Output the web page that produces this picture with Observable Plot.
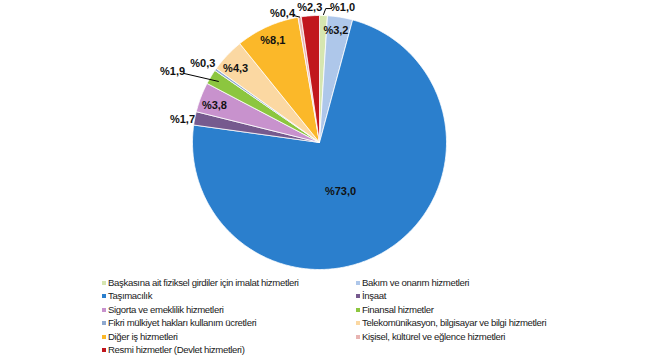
<!DOCTYPE html>
<html>
<head>
<meta charset="utf-8">
<script src="https://cdn.jsdelivr.net/npm/d3@7"></script>
<script src="https://cdn.jsdelivr.net/npm/@observablehq/plot@0.6"></script>
<style>
  html, body { margin: 0; padding: 0; background: #fff; }
  #wrap { width: 650px; height: 360px; position: relative; overflow: hidden; }
  #legend { position: absolute; left: 0; top: 276px; width: 650px; font-family: "Liberation Sans", Arial, sans-serif; font-size: 9.6px; color: #1a1a1a; }
  .li { position: absolute; white-space: nowrap; height: 13px; line-height: 13px; letter-spacing: -0.35px; }
  .sw { display: inline-block; width: 4px; height: 4px; margin-right: 2px; vertical-align: 1px; }
</style>
</head>
<body>
<div id="wrap"><div id="chart"></div><div id="legend"></div></div>
<script>
// Data (clockwise from 12 o'clock)
const categories = [
  "Başkasına ait fiziksel girdiler için imalat hizmetleri",
  "Bakım ve onarım hizmetleri",
  "Taşımacılık",
  "İnşaat",
  "Sigorta ve emeklilik hizmetleri",
  "Finansal hizmetler",
  "Fikri mülkiyet hakları kullanım ücretleri",
  "Telekomünikasyon, bilgisayar ve bilgi hizmetleri",
  "Diğer iş hizmetleri",
  "Kişisel, kültürel ve eğlence hizmetleri",
  "Resmi hizmetler (Devlet hizmetleri)"
];
const shares = [1.0, 3.2, 73.0, 1.7, 3.8, 1.9, 0.3, 4.3, 8.1, 0.4, 2.3];
const colors = ["#d6e6b0", "#aec7ea", "#2b7fcd", "#765a8e", "#c892cd", "#8cc63f", "#8fa9cf", "#fbd8a2", "#fbb829", "#e8b4b2", "#c1161d"];
// Label placement style (radius as fraction of pie radius, angular shift in degrees)
const labelRadius = [1.08, 0.89, 0.42, 1.094, 0.877, 1.285, 1.11, 0.88, 0.88, 1.057, 1.066];
const labelShift  = [7.9, -1, 10.3, -1.5, -1.5, -5.3, -1, -2, -0.4, -7, 0];
const leader = ["hook", null, null, null, null, "straight", null, null, null, "straight", null];

const W = 650, H = 276, cx = 319, cy = 142, R = 127;
const pie = d3.pie().sort(null).value(d => d)(shares);

const polys = [];
const labels = [];
const leaders = [];
const pt = (ang, r) => ({x: cx + r * Math.sin(ang), y: cy - r * Math.cos(ang)});
pie.forEach((p, i) => {
  const n = Math.max(2, Math.ceil((p.endAngle - p.startAngle) / 0.01));
  const pts = [{...pt(0, 0)}];
  for (let k = 0; k <= n; k++) {
    const a = p.startAngle + (p.endAngle - p.startAngle) * k / n;
    pts.push(pt(a, R));
  }
  pts.push(pt(0, 0));
  pts.forEach(q => polys.push({...q, i, color: colors[i]}));
  const mid = (p.startAngle + p.endAngle) / 2;
  const la = mid + labelShift[i] * Math.PI / 180;
  const lp = pt(la, labelRadius[i] * R);
  labels.push({...lp, text: "%" + shares[i].toFixed(1).replace(".", ",")});
  if (leader[i] === "hook") {
    const e = pt(mid, R + 1), el = pt(mid, R + 7);
    [e, {x: el.x + 2, y: el.y}, {x: lp.x - 11, y: el.y}].forEach(q => leaders.push({...q, i}));
  } else if (leader[i] === "straight") {
    const e = pt(mid, R * (i === 5 ? 0.93 : 1.0));
    const side = lp.x < e.x ? 11 : -11;
    [{x: lp.x + side, y: lp.y + 2}, e].forEach(q => leaders.push({...q, i}));
  }
});

const chart = Plot.plot({
  width: W, height: H,
  margin: 0,
  x: {domain: [0, W], range: [0, W], axis: null},
  y: {domain: [0, H], range: [0, H], axis: null},
  marks: [
    Plot.line(polys, {x: "x", y: "y", z: "i", fill: "color", stroke: "#ffffff", strokeWidth: 0.8, strokeLinejoin: "round"}),
    Plot.line(leaders, {x: "x", y: "y", z: "i", stroke: "#000", strokeWidth: 1, curve: "linear"}),
    Plot.text(labels, {x: "x", y: "y", text: "text", fill: "#111", fontSize: 11, fontWeight: "bold", fontFamily: "Liberation Sans, Arial, sans-serif"})
  ]
});
document.getElementById("chart").appendChild(chart);

// Legend: two columns, row-major order
const legend = document.getElementById("legend");
categories.forEach((c, i) => {
  const col = i % 2, row = Math.floor(i / 2);
  const d = document.createElement("div");
  d.className = "li";
  d.style.left = (col === 0 ? 102 : 356) + "px";
  d.style.top = (row * 13.4) + "px";
  d.innerHTML = `<span class="sw" style="background:${colors[i]}"></span>${c}`;
  legend.appendChild(d);
});
</script>
</body>
</html>
